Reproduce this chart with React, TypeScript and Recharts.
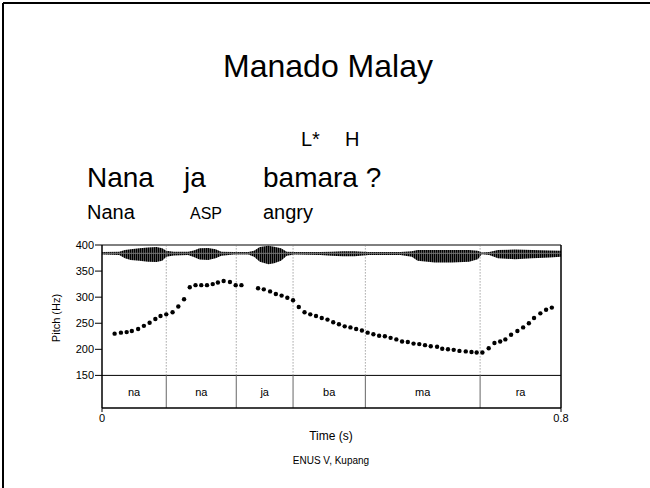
import React from 'react';
import { ComposedChart, Area, Scatter, XAxis, YAxis, ReferenceLine, ReferenceArea } from 'recharts';

// pitch track (s, Hz)
const pitchTimes = [
  0.022, 0.033, 0.043, 0.052, 0.063, 0.073, 0.083, 0.093, 0.102, 0.112,
  0.123, 0.133, 0.143, 0.153, 0.163, 0.173, 0.183, 0.193, 0.202, 0.212,
  0.223, 0.233, 0.243,
  0.272, 0.282, 0.293, 0.303, 0.313, 0.323, 0.333, 0.343, 0.353, 0.363,
  0.373, 0.383, 0.393, 0.403, 0.413, 0.423, 0.433, 0.443, 0.453, 0.463,
  0.473, 0.483, 0.493, 0.503, 0.513, 0.523, 0.533, 0.543,
  0.553, 0.563, 0.573, 0.584, 0.593, 0.603, 0.613, 0.623, 0.634, 0.644,
  0.653, 0.663, 0.674, 0.684, 0.694, 0.703, 0.713, 0.724, 0.734, 0.744,
  0.753, 0.764, 0.774, 0.784,
];
const pitchHz = [
  230, 232, 233, 235, 239, 245, 251, 258, 264, 267,
  271, 282, 296, 319, 323, 323, 323, 325, 328, 331,
  329, 323, 323,
  317, 315, 311, 306, 303, 299, 294, 281, 271, 267,
  264, 260, 257, 252, 248, 244, 242, 239, 236, 232,
  229, 226, 225, 222, 219, 215, 214, 211,
  210, 208, 206, 205, 201, 200, 199, 197, 196, 195,
  194, 194, 202, 212, 215, 219, 228, 235, 242, 250,
  260, 269, 276, 280,
];

// waveform envelope (relative amplitude)
const waveTimes = [
  0, 0.03, 0.04, 0.05, 0.065, 0.08, 0.095, 0.105, 0.112, 0.125,
  0.15, 0.16, 0.17, 0.185, 0.198, 0.208, 0.23, 0.255, 0.265, 0.275,
  0.29, 0.3, 0.312, 0.322, 0.335, 0.38, 0.4, 0.42, 0.44, 0.455,
  0.465, 0.52, 0.54, 0.55, 0.58, 0.61, 0.64, 0.655, 0.662, 0.675,
  0.69, 0.72, 0.75, 0.78, 0.8,
];
const waveUpper = [
  0.15, 0.2, 0.4, 0.5, 0.6, 0.7, 0.75, 0.6, 0.3, 0.2,
  0.2, 0.35, 0.6, 0.65, 0.5, 0.2, 0.15, 0.15, 0.3, 0.75,
  0.9, 0.8, 0.6, 0.2, 0.15, 0.15, 0.2, 0.25, 0.25, 0.2,
  0.15, 0.15, 0.25, 0.4, 0.4, 0.4, 0.4, 0.3, 0.1, 0.15,
  0.4, 0.45, 0.4, 0.35, 0.3,
];
const waveLower = [
  0.15, 0.2, 0.6, 0.8, 0.9, 1.0, 1.05, 0.9, 0.4, 0.25,
  0.2, 0.45, 0.75, 0.8, 0.6, 0.3, 0.15, 0.15, 0.4, 1.0,
  1.3, 1.2, 0.9, 0.3, 0.15, 0.2, 0.3, 0.35, 0.35, 0.25,
  0.2, 0.2, 0.4, 0.9, 1.1, 1.1, 1.0, 0.7, 0.1, 0.2,
  0.6, 0.7, 0.6, 0.5, 0.4,
];

// syllable tier
const tierBounds = [0, 0.112, 0.234, 0.333, 0.459, 0.659, 0.8];
const tierLabels = ['na', 'na', 'ja', 'ba', 'ma', 'ra'];

const pitchTicks = [150, 200, 250, 300, 350, 400];
const timeTicks = [0, 0.8];

const pitchData = pitchTimes.map((t, i) => ({ t, hz: pitchHz[i] }));
const waveData = waveTimes.map((t, i) => ({ t, up: waveUpper[i], lo: waveLower[i] }));

const font = '"Liberation Sans", Arial, Helvetica, sans-serif';
const TIER_BOTTOM = 87.5;

const Dot = (p: any) => <circle cx={p.cx} cy={p.cy} r={2.2} fill="#000" />;

export default function App() {
  return (
    <div style={{ position: 'absolute', left: 0, top: 0, width: 650, height: 488, background: '#fff', fontFamily: font }}>
      <svg width={0} height={0} style={{ position: 'absolute' }}>
        <defs>
          <pattern id="waveStripes" width={2} height={4} patternUnits="userSpaceOnUse">
            <rect width={2} height={4} fill="#777" />
            <rect width={1.3} height={4} fill="#000" />
          </pattern>
        </defs>
      </svg>

      <ComposedChart
        width={650}
        height={488}
        data={waveData}
        margin={{ top: 245, right: 89, bottom: 50, left: 62 }}
        style={{ position: 'absolute', left: 0, top: 0 }}
      >
        <XAxis
          dataKey="t"
          type="number"
          domain={[0, 0.8]}
          ticks={timeTicks}
          allowDataOverflow
          height={30}
          tickSize={4}
          tickMargin={2}
          tickFormatter={(v: number) => (v === 0 ? '0' : String(v))}
          axisLine={{ stroke: '#000', strokeWidth: 1.5 }}
          tickLine={{ stroke: '#000' }}
          tick={{ fill: '#000', fontSize: 11, fontFamily: font }}
        />
        <YAxis
          yAxisId="hz"
          type="number"
          domain={[TIER_BOTTOM, 400]}
          ticks={pitchTicks}
          allowDataOverflow
          width={40}
          tickSize={7}
          tickMargin={1}
          axisLine={{ stroke: '#000', strokeWidth: 1.5 }}
          tickLine={{ stroke: '#000' }}
          tick={{ fill: '#000', fontSize: 11, fontFamily: font }}
        />
        <YAxis yAxisId="wave" hide type="number" domain={[-18.6, 1]} allowDataOverflow />

        <Area
          yAxisId="wave"
          type="linear"
          dataKey={(d: any) => [-d.lo, d.up]}
          stroke="none"
          fill="url(#waveStripes)"
          fillOpacity={1}
          isAnimationActive={false}
        />
        <ReferenceLine yAxisId="wave" y={0} stroke="#777" strokeWidth={1} />

        <ReferenceLine yAxisId="hz" y={400} stroke="#000" />
        <ReferenceLine yAxisId="hz" x={0.8} stroke="#000" strokeWidth={1.5} />
        <ReferenceLine yAxisId="hz" y={150} stroke="#000" />

        {tierBounds.slice(1, -1).map((b, i) => (
          <ReferenceLine
            key={`dot-${i}`}
            yAxisId="hz"
            segment={[{ x: b, y: 150 }, { x: b, y: 400 }]}
            stroke="#777"
            strokeDasharray="1 2"
          />
        ))}
        {tierBounds.slice(1, -1).map((b, i) => (
          <ReferenceLine
            key={`sol-${i}`}
            yAxisId="hz"
            segment={[{ x: b, y: TIER_BOTTOM }, { x: b, y: 150 }]}
            stroke="#666"
          />
        ))}
        {tierLabels.map((lab, i) => (
          <ReferenceArea
            key={`tier-${i}`}
            yAxisId="hz"
            x1={tierBounds[i]}
            x2={tierBounds[i + 1]}
            y1={TIER_BOTTOM}
            y2={150}
            fill="none"
            fillOpacity={0}
            stroke="none"
            label={{ value: lab, position: 'center', fontSize: 11, fill: '#000', fontFamily: font }}
          />
        ))}

        <Scatter yAxisId="hz" data={pitchData} dataKey="hz" shape={Dot} isAnimationActive={false} />
      </ComposedChart>

      <svg width={650} height={488} style={{ position: 'absolute', left: 0, top: 0, pointerEvents: 'none' }}>
        <line x1={3} y1={3} x2={3} y2={488} stroke="#000" strokeWidth={2} />
        <line x1={3} y1={3} x2={650} y2={3} stroke="#000" strokeWidth={2} />
        <g fontFamily={font} fill="#000">
          <text x={328} y={77} fontSize={32} textAnchor="middle">Manado Malay</text>
          <text x={301} y={146} fontSize={20}>L*</text>
          <text x={345} y={146} fontSize={20}>H</text>
          <text x={87} y={187} fontSize={28}>Nana</text>
          <text x={184} y={187} fontSize={28}>ja</text>
          <text x={263} y={187} fontSize={28}>bamara ?</text>
          <text x={87} y={219} fontSize={20}>Nana</text>
          <text x={190} y={219} fontSize={16}>ASP</text>
          <text x={263} y={219} fontSize={20}>angry</text>
          <text x={0} y={0} fontSize={11} textAnchor="middle" transform="translate(60 318) rotate(-90)">Pitch (Hz)</text>
          <text x={331} y={440} fontSize={12} textAnchor="middle">Time (s)</text>
          <text x={331} y={464} fontSize={10} textAnchor="middle">ENUS V, Kupang</text>
        </g>
      </svg>
    </div>
  );
}
